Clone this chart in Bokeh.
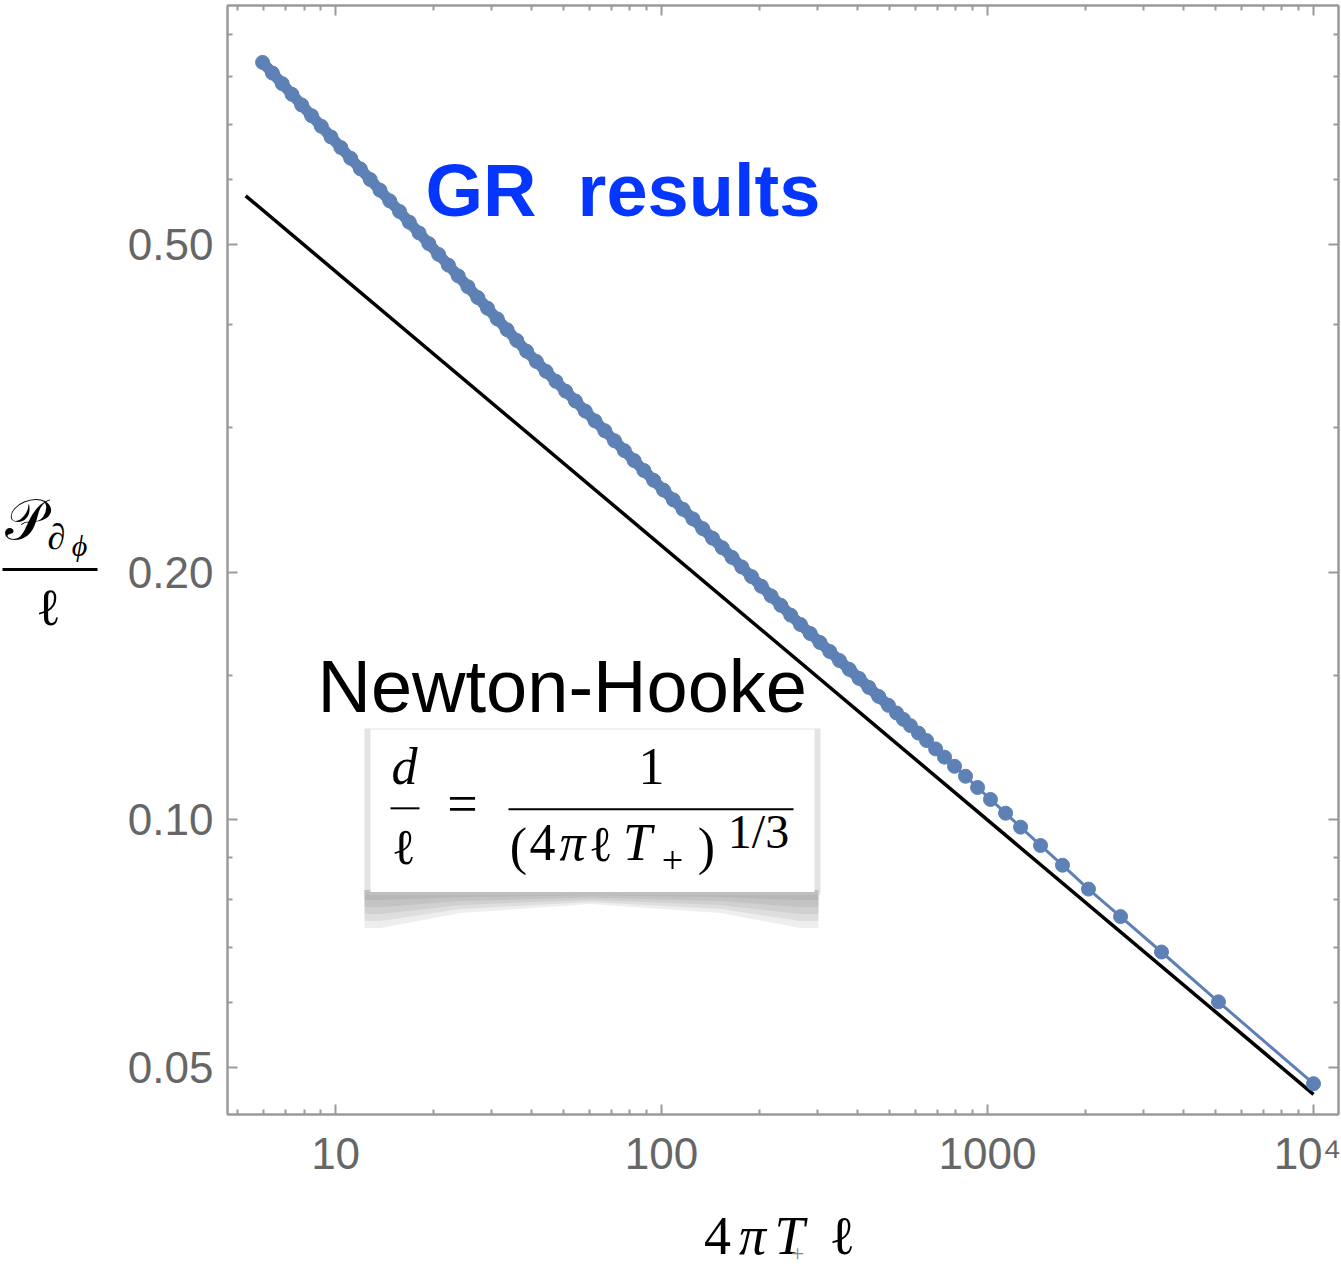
import numpy as np
from bokeh.plotting import figure
from bokeh.layouts import row, column
from bokeh.models import Range1d, LogAxis, FixedTicker, Label, BoxAnnotation, PolyAnnotation
from bokeh.embed import file_html
from bokeh.resources import INLINE

# ---------------- data ----------------
gr_x = [5.97, 6.40, 6.86, 7.35, 7.87, 8.44, 9.04, 9.68, 10.38, 11.12, 11.91, 12.77, 13.68, 14.66,
        15.71, 16.83, 18.03, 19.32, 20.70, 22.18, 23.77, 25.46, 27.29, 29.24, 31.33, 33.57, 35.96,
        38.54, 41.29, 44.24, 47.41, 50.79, 54.43, 58.32, 62.48, 66.95, 71.74, 76.87, 82.36, 88.25,
        94.56, 101.4, 108.7, 116.4, 124.8, 133.7, 143.3, 153.5, 164.5, 176.2, 188.8, 202.3, 216.8,
        232.3, 248.9, 266.7, 285.8, 306.2, 328.1, 351.5, 376.7, 403.6, 432.5, 463.4, 496.5,
        526, 552, 580, 614, 650, 693, 738, 792, 856, 932, 1021, 1136, 1263, 1454, 1698, 2040,
        2559, 3417, 5110, 10000]
gr_y = [0.8332, 0.8087, 0.7850, 0.7619, 0.7396, 0.7177, 0.6967, 0.6763, 0.6564, 0.6371, 0.6185,
        0.6003, 0.5827, 0.5655, 0.5490, 0.5327, 0.5170, 0.5017, 0.4868, 0.4724, 0.4584, 0.4447,
        0.4315, 0.4188, 0.4064, 0.3943, 0.3826, 0.3713, 0.3608, 0.3509, 0.3413, 0.3320, 0.3230,
        0.3140, 0.3055, 0.2972, 0.2890, 0.2811, 0.2734, 0.2659, 0.2587, 0.2517, 0.2449, 0.2385,
        0.2322, 0.2260, 0.2200, 0.2142, 0.2085, 0.2030, 0.1976, 0.1923, 0.1872, 0.1823, 0.1774,
        0.1728, 0.1685, 0.1643, 0.1602, 0.1562, 0.1524, 0.1486, 0.1449, 0.1413, 0.1378,
        0.1349, 0.1325, 0.1302, 0.1275, 0.1249, 0.1220, 0.1192, 0.1162, 0.1130, 0.1095, 0.1059,
        0.1019, 0.0980, 0.0931, 0.0881, 0.0824, 0.0763, 0.0691, 0.0601, 0.0478]
N_DENSE = 65  # the closely packed samples that merge into a band

nh_x = [5.3, 10000]
nh_y = [0.5735, 0.0464]

x_major = [10, 100, 1000, 10000]
x_major_labels = ["10", "100", "1000", "10\u2074"]
x_minor = [5, 6, 7, 8, 9, 20, 30, 40, 50, 60, 70, 80, 90, 200, 300, 400, 500, 600, 700, 800, 900,
           2000, 3000, 4000, 5000, 6000, 7000, 8000, 9000]
y_major = [0.05, 0.1, 0.2, 0.5]
y_major_labels = ["0.05", "0.10", "0.20", "0.50"]
y_minor = [0.06, 0.07, 0.08, 0.09, 0.15, 0.3, 0.4, 0.6, 0.7, 0.8, 0.9]

# ---------------- layout (page pixels) ----------------
W, H = 1341, 1271
LW = 110            # left strip with the y label
MH = 1180           # height of the main figure; strip below holds x label
FL, FR, FT, FB = 227, 3, 5, 1117   # frame edges in page pixels
FW, FH = W - FR - FL, FB - FT
x_lo, x_hi = 4.66, 11930.0
y_lo, y_hi = 0.04385, 0.977
lx0, lx1 = np.log10(x_lo), np.log10(x_hi)
ly0, ly1 = np.log10(y_lo), np.log10(y_hi)
BASE = 0.37   # baseline correction (fraction of font size)
YSCALE = 0.948  # observed vertical scale of the narrow left strip


def X(px):
    return float(10 ** (lx0 + (px - FL) / FW * (lx1 - lx0)))


def Y(py):
    return float(10 ** (ly1 - (py - FT) / FH * (ly1 - ly0)))


GRAY = "#9a9a9a"
BLUE = "#5E81B5"

p = figure(width=W - LW, height=MH, x_axis_type="log", y_axis_type="log",
           x_range=Range1d(x_lo, x_hi), y_range=Range1d(y_lo, y_hi),
           output_backend="svg", toolbar_location=None,
           min_border_left=FL - LW, min_border_right=FR, min_border_top=FT,
           min_border_bottom=MH - FB)
p.xgrid.visible = False
p.ygrid.visible = False
p.outline_line_color = GRAY
p.outline_line_width = 2


def style_axis(ax, ticks, minors, labels, show):
    ax.ticker = FixedTicker(ticks=ticks, minor_ticks=minors)
    ax.axis_line_color = GRAY
    ax.axis_line_width = 2
    ax.major_tick_line_color = GRAY
    ax.minor_tick_line_color = GRAY
    ax.major_tick_line_width = 2
    ax.minor_tick_line_width = 2
    ax.major_tick_in = 10
    ax.major_tick_out = 0
    ax.minor_tick_in = 5
    ax.minor_tick_out = 0
    if show:
        ax.major_label_overrides = {t: l for t, l in zip(ticks, labels)}
        ax.major_label_text_font = "Liberation Sans"
        ax.major_label_text_font_size = "44px"
        ax.major_label_text_color = "#666666"
    else:
        ax.major_label_overrides = {t: "" for t in ticks}
        ax.major_label_text_font_size = "1px"
        ax.major_label_standoff = 0


bx = p.below[0]
style_axis(bx, x_major, x_minor, x_major_labels, True)
bx.major_label_standoff = 14
lax = p.left[0]
style_axis(lax, y_major, y_minor, y_major_labels, True)
lax.major_label_standoff = 14

top = LogAxis()
style_axis(top, x_major, x_minor, x_major_labels, False)
p.add_layout(top, "above")
right = LogAxis()
style_axis(right, y_major, y_minor, y_major_labels, False)
p.add_layout(right, "right")

# ---------------- data glyphs ----------------
p.line(nh_x, nh_y, line_color="black", line_width=3.5)
p.line(gr_x[:N_DENSE], gr_y[:N_DENSE], line_color=BLUE, line_width=11)
p.line(gr_x, gr_y, line_color=BLUE, line_width=3)
p.scatter(gr_x, gr_y, marker="circle", size=14, fill_color=BLUE, line_color=BLUE)


# ---------------- texts in the main frame ----------------
def lab(px, py, text, size, font="Liberation Sans", style="normal", color="black", align="left"):
    p.add_layout(Label(x=X(px), y=Y(py - BASE * size), text=text, text_font=font,
                       text_font_size=f"{size}px", text_font_style=style, text_color=color,
                       text_align=align, text_baseline="alphabetic"))


def bar(x0, x1, y, h=2, color="black"):
    p.add_layout(BoxAnnotation(left=X(x0), right=X(x1), top=Y(y - h / 2), bottom=Y(y + h / 2),
                               fill_color=color, fill_alpha=1, line_alpha=0))


lab(425, 218, "GR\u00a0\u00a0results", 74, style="bold", color="#0536FF")
lab(317, 715, "Newton-Hooke", 74)

# formula box with curled shadow
mid = [(364, 930), (380, 930), (460, 915), (590, 906), (720, 915), (800, 930), (818, 930)]
for f in [1.0, 0.8, 0.6, 0.4, 0.2]:
    xs = [364] + [a for a, b in mid] + [818]
    ys = [892] + [895 + f * (b - 895) for a, b in mid] + [892]
    p.add_layout(PolyAnnotation(xs=[X(v) for v in xs], ys=[Y(v) for v in ys],
                                fill_color="#444444", fill_alpha=0.09, line_alpha=0))
p.add_layout(BoxAnnotation(left=X(364), right=X(820), top=Y(730), bottom=Y(897),
                           fill_color="#c8c8c8", fill_alpha=0.5, line_alpha=0))
p.add_layout(BoxAnnotation(left=X(370), right=X(814), top=Y(731), bottom=Y(894),
                           fill_color="white", fill_alpha=1, line_alpha=0))

SERIF = "Liberation Serif"
lab(404, 787, "d", 52, SERIF, "italic", align="center")
bar(390, 419, 810)
lab(403, 867, "\u2113", 50, SERIF, align="center")
lab(462, 826, "=", 54, SERIF, align="center")
lab(651, 787, "1", 52, SERIF, align="center")
bar(508, 793, 811)
lab(518, 868, "(", 52, SERIF, align="center")
lab(542, 864, "4", 52, SERIF, align="center")
lab(572, 864, "\u03c0", 52, SERIF, "italic", align="center")
lab(600, 864, "\u2113", 50, SERIF, align="center")
lab(637, 864, "T", 52, SERIF, "italic", align="center")
lab(672, 876, "+", 38, SERIF, align="center")
lab(706, 868, ")", 52, SERIF, align="center")
lab(758, 851, "1/3", 48, SERIF, align="center")


# ---------------- side strips (page pixel coordinates) ----------------
def strip(w, h):
    s = figure(width=w, height=h, x_range=Range1d(0, w), y_range=Range1d(h, 0),
               output_backend="svg", toolbar_location=None, min_border=0,
               min_border_left=0, min_border_right=0, min_border_top=0, min_border_bottom=0,
               x_axis_location=None, y_axis_location=None)
    s.grid.visible = False
    s.outline_line_color = None
    return s


ylab = strip(LW, MH)


def slab(fig, px, py, text, size, style="normal", color="black", yoff=0, ys=1.0):
    fig.add_layout(Label(x=px, y=(py - yoff - BASE * size) / ys, text=text, text_font=SERIF,
                         text_font_size=f"{size}px", text_font_style=style, text_color=color,
                         text_align="center", text_baseline="alphabetic"))


slab(ylab, 24, 540, "\U0001D4AB", 56, ys=YSCALE)
slab(ylab, 56, 549, "\u2202", 36, "italic", ys=YSCALE)
slab(ylab, 79, 556, "\u03d5", 30, "italic", ys=YSCALE)
ylab.quad(left=[2], right=[97], top=[567.5 / YSCALE], bottom=[570.5 / YSCALE],
          fill_color="black", line_alpha=0)
slab(ylab, 48, 626, "\u2113", 52, ys=YSCALE)

xlab = strip(W, H - MH)
slab(xlab, 717, 1255, "4", 54, yoff=MH)
slab(xlab, 752, 1255, "\u03c0", 54, "italic", yoff=MH)
slab(xlab, 789, 1255, "T", 54, "italic", yoff=MH)
slab(xlab, 797, 1262, "+", 24, color="#888888", yoff=MH)
slab(xlab, 842, 1255, "\u2113", 54, yoff=MH)

layout = column(row(ylab, p, spacing=0), xlab, spacing=0)
open("out.html", "w").write(file_html(layout, INLINE))
